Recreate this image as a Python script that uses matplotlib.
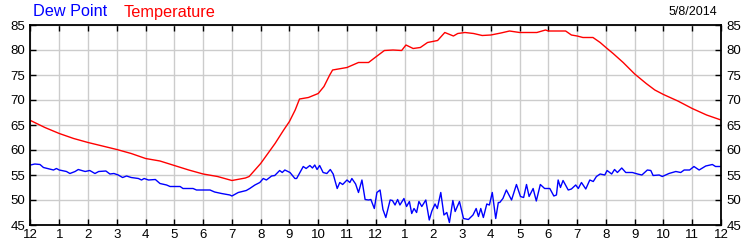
import matplotlib; matplotlib.use('Agg')
import matplotlib.pyplot as plt

plt.rcParams['font.family'] = ['Liberation Sans', 'DejaVu Sans']

# hours since midnight, 5/8/2014
temp_h = [0, 0.5, 1, 1.5, 2, 2.5, 3, 3.5, 4, 4.5, 5, 5.5, 6, 6.5, 7, 7.47, 7.6,
          8.0, 8.5, 8.8, 9.0, 9.2, 9.35, 9.66, 10.0, 10.2, 10.4, 10.5, 10.8, 11.0,
          11.4, 11.75, 12.0, 12.3, 12.6, 12.9, 13.05, 13.3, 13.55, 13.8, 14.15,
          14.4, 14.7, 14.85, 15.1, 15.4, 15.7, 16.0, 16.35, 16.65, 17.0, 17.6,
          17.9, 18.0, 18.6, 18.8, 19.0, 19.2, 19.55, 19.8, 20.0, 20.25, 20.6,
          21.0, 21.4, 21.7, 22.0, 22.5, 23.0, 23.5, 24.0]
temp_v = [65.9, 64.5, 63.3, 62.3, 61.5, 60.8, 60.1, 59.3, 58.3, 57.8, 56.9, 56.0,
          55.2, 54.7, 53.9, 54.4, 54.7, 57.3, 61.3, 64.0, 65.7, 68.0, 70.2, 70.5,
          71.3, 72.7, 75.0, 76.0, 76.3, 76.5, 77.5, 77.5, 78.6, 79.9, 80.0, 79.9,
          81.0, 80.3, 80.5, 81.5, 81.9, 83.5, 82.8, 83.3, 83.5, 83.3, 82.9, 83.0,
          83.4, 83.8, 83.5, 83.5, 84.0, 83.8, 83.8, 83.0, 82.8, 82.5, 82.5, 81.5,
          80.5, 79.3, 77.5, 75.2, 73.3, 72.0, 71.1, 69.8, 68.3, 67.0, 66.0]

dew_h = [0, 0.15, 0.33, 0.45, 0.8, 0.9, 1.0, 1.25, 1.37, 1.55, 1.66, 1.9, 2.06,
         2.24, 2.37, 2.62, 2.76, 2.9, 3.05, 3.2, 3.34, 3.5, 3.75, 3.86, 3.95,
         4.1, 4.34, 4.5, 4.73, 4.85, 5.2, 5.3, 5.65, 5.77, 6.24, 6.4, 6.64, 6.93,
         7.0, 7.22, 7.5, 7.62, 7.8, 7.97, 8.09, 8.2, 8.38, 8.49, 8.66, 8.75,
         8.84, 9.02, 9.19, 9.25, 9.48, 9.58, 9.71, 9.8, 9.88, 9.96, 10.05, 10.17,
         10.3, 10.42, 10.52, 10.66, 10.75, 10.85, 11.0, 11.1, 11.17, 11.3, 11.4,
         11.52, 11.63, 11.75, 11.83, 11.95, 12.04, 12.15, 12.25, 12.35, 12.5,
         12.58, 12.67, 12.76, 12.84, 12.98, 13.07, 13.17, 13.25, 13.33, 13.42,
         13.5, 13.6, 13.74, 13.86, 13.95, 14.06, 14.14, 14.26, 14.37, 14.47,
         14.56, 14.68, 14.76, 14.91, 15.05, 15.22, 15.38, 15.49, 15.57, 15.65,
         15.74, 15.86, 15.95, 16.05, 16.17, 16.26, 16.31, 16.42, 16.54, 16.72,
         16.89, 17.03, 17.14, 17.24, 17.33, 17.47, 17.58, 17.72, 17.87, 18.05,
         18.19, 18.28, 18.34, 18.42, 18.51, 18.69, 18.8, 18.95, 19.04, 19.15,
         19.3, 19.44, 19.56, 19.67, 19.8, 19.96, 20.04, 20.2, 20.3, 20.4, 20.55,
         20.69, 20.92, 21.1, 21.25, 21.44, 21.56, 21.64, 21.85, 21.96, 22.19,
         22.43, 22.6, 22.72, 22.91, 23.06, 23.24, 23.47, 23.7, 23.81, 24.0]
dew_v = [57.0, 57.2, 57.1, 56.5, 56.0, 56.3, 56.0, 55.7, 55.3, 55.7, 56.1, 55.7,
         55.9, 55.3, 55.7, 55.8, 55.2, 55.3, 55.0, 54.5, 54.8, 54.5, 54.3, 54.0,
         54.3, 54.0, 54.1, 53.3, 53.0, 52.7, 52.7, 52.3, 52.3, 52.0, 52.0, 51.6,
         51.3, 51.0, 50.8, 51.5, 51.9, 52.3, 53.0, 53.5, 54.3, 54.0, 54.8, 54.9,
         55.9, 55.5, 56.0, 55.5, 54.3, 54.3, 56.7, 56.3, 56.9, 56.4, 57.0, 56.1,
         56.9, 55.5, 55.3, 56.1, 55.2, 52.3, 53.5, 53.1, 54.0, 53.5, 54.3, 53.2,
         51.5, 54.0, 50.1, 50.0, 50.1, 48.3, 51.5, 52.0, 48.1, 46.5, 50.0, 49.9,
         49.0, 50.1, 49.0, 50.3, 48.7, 49.7, 47.3, 48.3, 47.5, 49.7, 48.7, 50.0,
         46.0, 47.8, 49.2, 48.3, 51.5, 47.0, 47.5, 45.5, 49.9, 47.7, 49.7, 46.3,
         46.1, 47.0, 48.3, 46.7, 48.3, 46.5, 49.2, 49.0, 51.5, 46.3, 49.5, 49.5,
         50.3, 52.0, 50.0, 53.1, 50.7, 50.5, 53.1, 50.7, 52.3, 49.8, 53.1, 52.3,
         52.3, 50.8, 51.0, 54.0, 52.5, 53.9, 52.0, 52.2, 53.0, 52.3, 53.5, 52.2,
         54.0, 53.7, 54.7, 55.2, 55.0, 55.9, 55.2, 56.1, 55.5, 56.4, 55.5, 55.5,
         55.2, 55.0, 56.0, 55.9, 54.9, 55.0, 54.7, 55.3, 55.7, 55.5, 56.0, 56.0,
         56.7, 56.0, 56.8, 57.1, 56.7, 56.7]

hour_ticks = list(range(0, 25))
hour_labels = ['12'] + [str(h) for h in range(1, 12)] + ['12'] + [str(h) for h in range(1, 12)] + ['12']
y_ticks = list(range(45, 90, 5))

fig = plt.figure(figsize=(7.5, 2.5), dpi=100)
ax = fig.add_axes([30.5 / 750, 0.1, (721 - 30.5) / 750, 0.8])

ax.plot(temp_h, temp_v, color='#ff0000', lw=1.0)
ax.plot(dew_h, dew_v, color='#0000ff', lw=1.0)

ax.set_xlim(0, 24)
ax.set_ylim(45, 85)
ax.set_xticks(hour_ticks)
ax.set_xticklabels(hour_labels)
ax.set_yticks(y_ticks)
ax.grid(True, color='#cccccc', lw=1.0)
ax.set_axisbelow(True)
for s in ax.spines.values():
    s.set_linewidth(1.3)
ax.tick_params(direction='in', length=4, width=1, labelsize=9.5, pad=4,
               top=True, right=True, labelright=True, colors='black')
ax.tick_params(axis='x', pad=3)

fig.text(33 / 750, 1 - 12 / 250, 'Dew Point', color='#0000ff', fontsize=11.7, va='center')
fig.text(124 / 750, 1 - 12 / 250, 'Temperature', color='#ff0000', fontsize=11.7, va='center')
fig.text(717 / 750, 1 - 12 / 250, '5/8/2014', color='black', fontsize=9, va='center', ha='right')

plt.savefig('out.png', dpi=100)
